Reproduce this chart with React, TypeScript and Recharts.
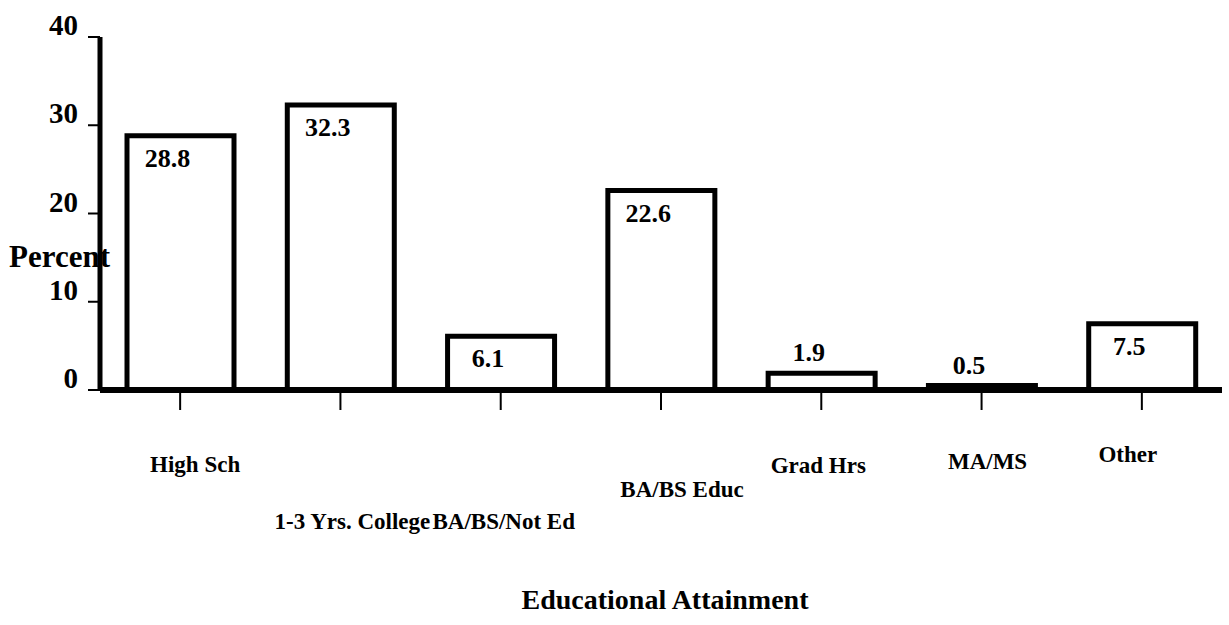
import React from 'react';
import { BarChart, Bar, XAxis, YAxis, LabelList } from 'recharts';

// categories and percentages
const categories = ['High Sch', '1-3 Yrs. College', 'BA/BS/Not Ed', 'BA/BS Educ', 'Grad Hrs', 'MA/MS', 'Other'];
const percents = [28.8, 32.3, 6.1, 22.6, 1.9, 0.5, 7.5];
const yTicks = [0, 10, 20, 30, 40];

const data = categories.map((name, i) => ({ name, value: percents[i] }));

// the original staggers its category labels by hand
const tickShiftX = [15, 12, 3, 21, -3, 6, -14];
const tickBaseline = [472, 529, 529, 497, 473, 469, 462];

const FONT = 'Liberation Serif';
const txt = (size: number): React.CSSProperties => ({ fontFamily: FONT, fontWeight: 700, fontSize: size });

const CategoryTick = (props: any) => {
  const { x, payload, index } = props;
  return (
    <text x={x + tickShiftX[index]} y={tickBaseline[index]} textAnchor="middle" fill="#000" style={txt(23)}>
      {payload.value}
    </text>
  );
};

const PercentTick = (props: any) => {
  const { x, y, payload } = props;
  return (
    <text x={x} y={y - 2} textAnchor="end" fill="#000" style={txt(29)}>
      {payload.value}
    </text>
  );
};

const ValueLabel = (props: any) => {
  const { x, y, width, value } = props;
  const above = value < 3;
  return (
    <text x={x + width / 2 - 13} y={above ? y - 12 : y + 31} textAnchor="middle" fill="#000" style={txt(26)}>
      {value}
    </text>
  );
};

export default function App() {
  return (
    <div style={{ position: 'absolute', left: 0, top: 0, width: 1229, height: 625, background: '#fff', fontFamily: FONT }}>
      <BarChart width={1229} height={625} data={data} margin={{ top: 37, right: 7, bottom: 0, left: 0 }}>
        <XAxis
          dataKey="name"
          height={235}
          axisLine={{ stroke: '#000', strokeWidth: 6 }}
          tickLine={{ stroke: '#000', strokeWidth: 2 }}
          tickSize={20}
          tick={<CategoryTick />}
          interval={0}
          label={{
            content: (p: any) => (
              <text x={p.viewBox.x + p.viewBox.width / 2 + 4} y={609} textAnchor="middle" fill="#000" style={txt(28)}>
                Educational Attainment
              </text>
            ),
          }}
        />
        <YAxis
          width={100}
          domain={[0, 40]}
          ticks={yTicks}
          interval={0}
          axisLine={{ stroke: '#000', strokeWidth: 5 }}
          tickLine={{ stroke: '#000', strokeWidth: 2 }}
          tickSize={12}
          tickMargin={10}
          tick={<PercentTick />}
          label={{
            content: () => (
              <text x={9} y={267} fill="#000" style={txt(31)}>
                Percent
              </text>
            ),
          }}
        />
        <Bar dataKey="value" fill="#fff" stroke="#000" strokeWidth={5} barSize={107} isAnimationActive={false}>
          <LabelList dataKey="value" content={<ValueLabel />} />
        </Bar>
      </BarChart>
    </div>
  );
}
